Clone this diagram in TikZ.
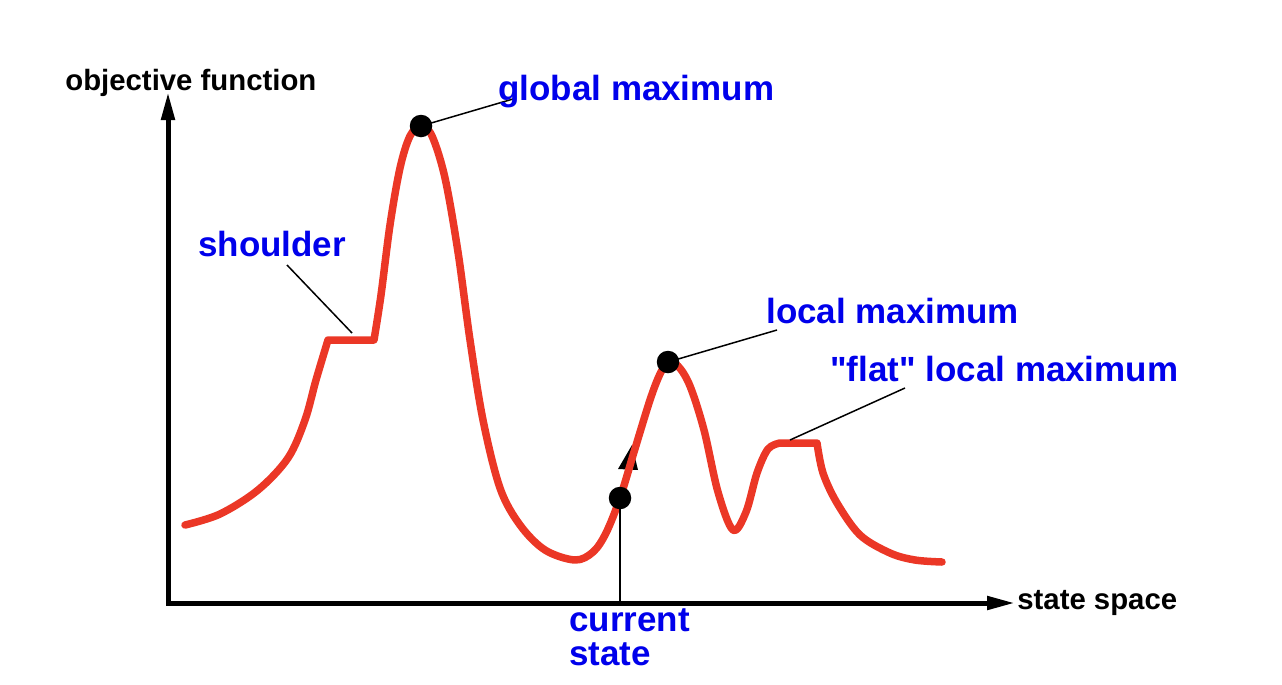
\documentclass[tikz,border=0pt]{standalone}
\usepackage{fontspec}
\setmainfont{Liberation Sans}[Ligatures=TeXOff]
\usetikzlibrary{arrows.meta}
\definecolor{lblblue}{RGB}{0,0,235}
\definecolor{curvered}{RGB}{235,55,38}
\begin{document}
\begin{tikzpicture}[x=0.02cm,y=-0.02cm,
  axis/.style={line width=0.1cm,line join=miter,{Triangle[length=0.56cm,width=0.26cm]}-{Triangle[length=0.56cm,width=0.26cm]}},
  curve/.style={line width=0.15cm,curvered,line join=round,line cap=round},
  leader/.style={line width=0.03cm,black},
  dot/.style={circle,fill=black,inner sep=0pt,minimum size=0.45cm},
  axlabel/.style={anchor=base west,inner sep=0pt,font=\bfseries\fontsize{16.7}{20}\selectfont},
  bluelabel/.style={anchor=base west,inner sep=0pt,text=lblblue,font=\bfseries\fontsize{19.9}{22}\selectfont,align=left}]
\useasboundingbox (0,0) rectangle (1282,684);
% axes
\coordinate (ytip) at (168,92);
\coordinate (O) at (168,603);
\coordinate (xtip) at (1015,603);
\draw[axis] (ytip) -- (O) -- (xtip);
\node[axlabel] (ylab) at (65,90) {objective function};
\node[axlabel] (xlab) at (1017,609) {state space};
% small direction arrow on the curve
\fill (632,445) -- (618,469) -- (638,470) -- cycle;
% landscape curve
\draw[curve] plot[smooth,tension=0.55] coordinates {(185,525) (220,514) (258,490) (288,458) (305,420) (316,380) (328,340)}
  -- (374,340)
  plot[smooth,tension=0.55] coordinates {(374,340) (381,295) (390,225) (400,168) (410,136) (421,126) (432,136) (445,178) (458,252) (470,340) (483,420) (500,488) (520,525) (545,550) (575,560) (593,552) (606,533) (620,498) (634,452) (650,400) (660,374) (668,363) (678,366) (690,386) (704,430) (718,492) (733,530) (746,512) (757,473) (768,449) (780,443)}
  -- (817,443)
  plot[smooth,tension=0.55] coordinates {(817,443) (823,473) (837,503) (860,535) (890,553) (915,560) (942,562)};
% dots
\node[dot] (gmax) at (421,126) {};
\node[dot] (lmax) at (668,362) {};
\node[dot] (cur) at (620,498) {};
% leaders
\coordinate (gend) at (513,99);
\coordinate (send) at (287,265);
\coordinate (sshoulder) at (352,333);
\coordinate (lend) at (777,330);
\coordinate (fstart) at (790,440);
\coordinate (fend) at (905,388);
\coordinate (cend) at (620,603);
\draw[leader] (gmax.center) -- (gend);
\draw[leader] (sshoulder) -- (send);
\draw[leader] (lmax.center) -- (lend);
\draw[leader] (fstart) -- (fend);
\draw[leader] (cur.center) -- (cend);
% labels
\node[bluelabel] (glab) at (498,100) {global maximum};
\node[bluelabel] (slab) at (198,256) {shoulder};
\node[bluelabel] (llab) at (766,323) {local maximum};
\node[bluelabel] (flab) at (830,381) {"flat" local maximum};
\node[bluelabel] (clab1) at (569,631) {current};
\node[bluelabel] (clab2) at (569,665) {state};
\end{tikzpicture}
\end{document}
